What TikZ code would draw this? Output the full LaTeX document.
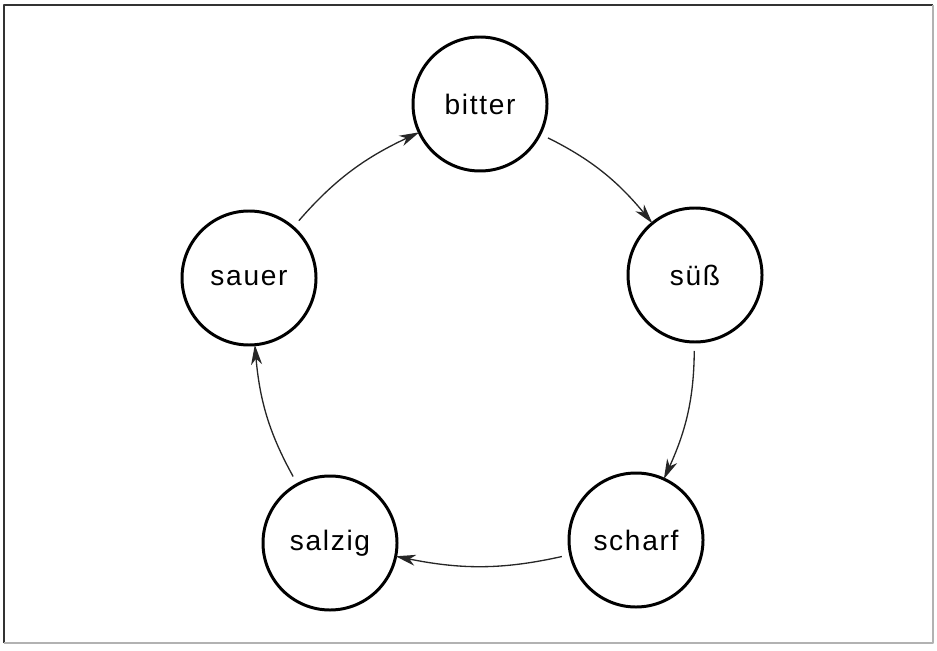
\documentclass[tikz,border=0pt]{standalone}
\usepackage{fontspec}
\setmainfont{Liberation Sans}
\newfontfamily\tastefont{Liberation Sans}[LetterSpace=6]
\usepackage{tikz}
\usetikzlibrary{arrows.meta}
\tikzset{taste/.style={circle,draw,line width=1.7pt,minimum size=2.68cm,inner sep=0pt,outer sep=0pt,font=\tastefont\fontsize{16}{19}\selectfont}}
\tikzset{flow/.style={-{Stealth[length=4mm,width=2.2mm,inset=1.2mm]},line width=0.75pt,black!85,shorten <=1.8mm}}

\begin{document}
\begin{tikzpicture}[x=0.2mm,y=0.2mm,>=Stealth,line join=round]
\useasboundingbox (0,0) rectangle (937,650);
% --- frame, dark on top/left, faint on bottom/right
\draw[black!80,line width=1pt] (4,7) -- (4,645) -- (933,645);
\draw[black!30,line width=0.6pt] (4,7) -- (933,7) -- (933,645);
% --- the five tastes
\node[taste] (bitter) at (480,546) {bitter};
\node[taste] (suess) at (695,375) {süß};
\node[taste] (scharf) at (636,110) {scharf};
\node[taste] (salzig) at (330,107) {salzig};
\node[taste] (sauer) at (249,372) {sauer};
% --- cycle, clockwise
\draw[flow] (bitter) to[bend left=12] (suess);
\draw[flow] (suess) to[bend left=12] (scharf);
\draw[flow] (scharf) to[bend left=12] (salzig);
\draw[flow] (salzig) to[bend left=12] (sauer);
\draw[flow] (sauer) to[bend left=12] (bitter);
\end{tikzpicture}
\end{document}
